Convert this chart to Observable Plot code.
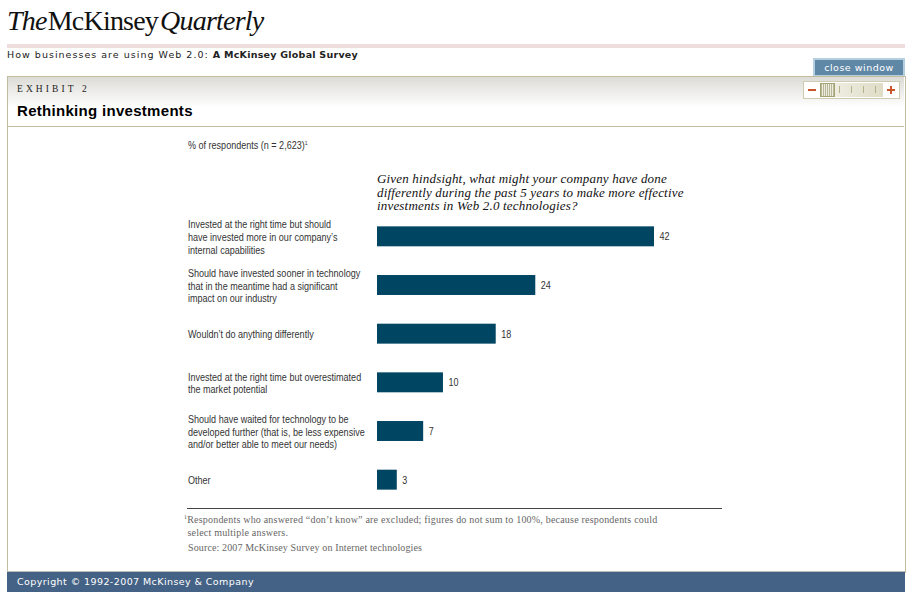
<!DOCTYPE html>
<html><head><meta charset="utf-8">
<script src="https://cdn.jsdelivr.net/npm/d3@7"></script>
<script src="https://cdn.jsdelivr.net/npm/@observablehq/plot@0.6"></script>
<style>
html,body{margin:0;padding:0;background:#fff;overflow:hidden}
#page{position:relative;width:912px;height:600px;overflow:hidden}
#page div{position:absolute;white-space:nowrap}
.pix{font-family:"DejaVu Sans",sans-serif;font-size:9.5px;letter-spacing:1.02px;color:#222}
.pix b{letter-spacing:.25px}
.narrow{font-family:"Liberation Sans",sans-serif;font-size:10.5px;color:#333;transform:scaleX(.86);transform-origin:left}
.serif{font-family:"Liberation Serif",serif}
.tk{background:#b5b28f;width:1px}
sup{font-size:6px;line-height:0}
#chart{left:0;top:212px}
</style></head><body>
<div id="page">
 <div class="serif" style="left:7px;top:5px;font-size:28px;letter-spacing:-.78px;color:#111"><i>The</i><span style="margin-left:1px">McKinsey</span><i style="margin-left:2px">Quarterly</i></div>
 <div style="left:7px;top:44px;width:898px;height:4px;background:#efdcdc"></div>
 <div class="pix" style="left:7px;top:49px">How businesses are using Web 2.0: <b>A McKinsey Global Survey</b></div>
 <div style="left:813px;top:58px;width:92px;height:18px;background:#b4cfe0"></div>
 <div class="pix" style="left:815px;top:60px;width:88px;height:15px;line-height:15px;background:#5f87a6;color:#fff;text-align:center;letter-spacing:.5px">close window</div>
 <div style="left:7px;top:76px;width:897px;height:496px;border:1px solid #c3bda0;border-bottom:0;background:#fff"></div>
 <div style="left:8px;top:77px;width:896px;height:49px;background:linear-gradient(#dcdbd6,#fff 62%);border-bottom:1px solid #c3bda0"></div>
 <div class="serif" style="left:17px;top:84px;font-size:9.5px;letter-spacing:3.1px;color:#222">EXHIBIT 2</div>
 <div style="left:17px;top:102px;font:bold 15px 'Liberation Sans',sans-serif;letter-spacing:.3px;color:#000">Rethinking investments</div>
 <div style="left:803px;top:81px;width:95px;height:16px;border:1px solid #cfcbb0;background:#fff"></div>
 <div style="left:808px;top:89px;width:8px;height:2px;background:#c9562a"></div>
 <div style="left:887px;top:89px;width:8px;height:2px;background:#c9562a"></div>
 <div style="left:890px;top:86px;width:2px;height:8px;background:#c9562a"></div>
 <div style="left:820px;top:83px;width:63px;height:14px;background:linear-gradient(90deg,#f3f2e8,#dfddc6)"></div>
 <div style="left:820px;top:83px;width:13px;height:12px;border:1px solid #a5a274;background:repeating-linear-gradient(90deg,#b9b79a 0 1px,#eeeddd 1px 2px)"></div>
 <div class="tk" style="left:839px;top:86px;height:7px"></div>
 <div class="tk" style="left:851px;top:86px;height:7px"></div>
 <div class="tk" style="left:863px;top:86px;height:7px"></div>
 <div class="tk" style="left:875px;top:86px;height:7px"></div>
 <div class="narrow" style="left:187.5px;top:139px">% of respondents (n = 2,623)<sup>1</sup></div>
 <div class="serif" style="left:377px;top:172px;font-size:13px;line-height:13.6px;font-style:italic;color:#111;letter-spacing:.18px">Given hindsight, what might your company have done<br>differently during the past 5 years to make more effective<br>investments in Web 2.0 technologies?</div>
 <div id="chart"></div>
 <div style="left:187px;top:508px;width:535px;height:1px;background:#444"></div>
 <div class="serif" style="left:184px;top:514px;font-size:10px;line-height:12.6px;color:#666;letter-spacing:.2px"><sup>1</sup>Respondents who answered “don’t know” are excluded; figures do not sum to 100%, because respondents could<br><span style="margin-left:3.5px">select multiple answers.</span></div>
 <div class="serif" style="left:188px;top:542px;font-size:10px;color:#666;letter-spacing:.13px">Source: 2007 McKinsey Survey on Internet technologies</div>
 <div style="left:7px;top:571px;width:898px;height:1px;background:#bbb"></div>
 <div class="pix" style="left:7px;top:572px;width:888px;padding-left:10px;height:20px;line-height:20px;background:#446285;color:#fff;letter-spacing:.42px">Copyright © 1992-2007 McKinsey &amp; Company</div>
</div>
<script>
const categories = [
 "Invested at the right time but should\nhave invested more in our company’s\ninternal capabilities",
 "Should have invested sooner in technology\nthat in the meantime had a significant\nimpact on our industry",
 "Wouldn’t do anything differently",
 "Invested at the right time but overestimated\nthe market potential",
 "Should have waited for technology to be\ndeveloped further (that is, be less expensive\nand/or better able to meet our needs)",
 "Other"
];
const values = [42, 24, 18, 10, 7, 3];
const rows = categories.map((c, i) => ({category: c, value: values[i]}));
const chart = Plot.plot({
  width: 912, height: 292,
  marginLeft: 377, marginRight: 258, marginTop: 0, marginBottom: 0,
  style: {background: "transparent", overflow: "visible"},
  x: {domain: [0, 42], axis: null},
  y: {domain: categories, axis: null, paddingInner: 0.59, paddingOuter: 0.295, round: false},
  marks: [
    Plot.barX(rows, {x: "value", y: "category", fill: "#004562"}),
    Plot.text(rows, {x: "value", y: "category", text: d => String(d.value), dx: 5, textAnchor: "start",
      fontFamily: "Liberation Sans, sans-serif", fontSize: 10.5, fill: "#333"}),
    Plot.text(rows, {y: "category", text: "category", frameAnchor: "left", dx: -189.5, textAnchor: "start", lineHeight: 1.21,
      fontFamily: "Liberation Sans, sans-serif", fontSize: 10.5, fill: "#333"})
  ]
});
document.getElementById("chart").appendChild(chart);
// The reference uses a condensed face: condense each line's glyphs to match.
const condense = el => {
  const n = el.getComputedTextLength();
  el.setAttribute("textLength", n * 0.86);
  el.setAttribute("lengthAdjust", "spacingAndGlyphs");
};
chart.querySelectorAll("text").forEach(t => {
  const spans = t.querySelectorAll("tspan");
  if (spans.length) spans.forEach(condense); else condense(t);
});
</script>
</body></html>
